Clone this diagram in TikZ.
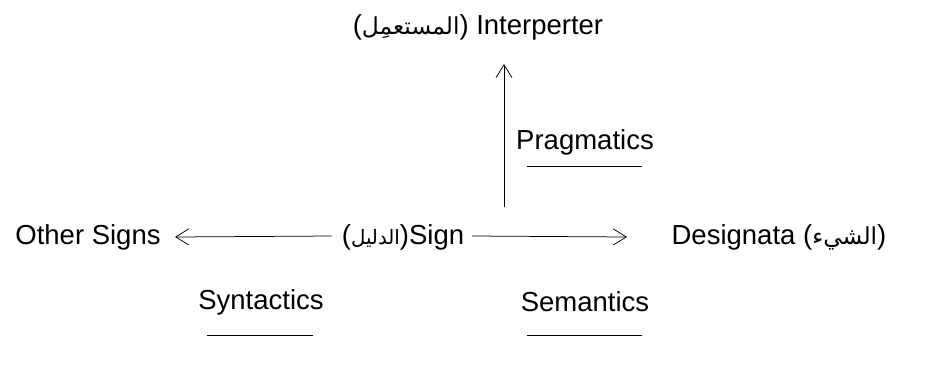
\documentclass[tikz,border=0pt]{standalone}
\usepackage{fontspec}
\setmainfont{Liberation Sans}
\newfontfamily\arabicfont[Script=Arabic,Scale=0.85]{DejaVu Sans}
\newfontfamily\arabicsmall[Script=Arabic,Scale=0.72]{DejaVu Sans}
\TeXXeTstate=1
\usetikzlibrary{arrows.meta}
\begin{document}
\begin{tikzpicture}[x=1pt,y=-1pt,
  lbl/.style={inner sep=0pt, font=\fontsize{27.5}{30}\selectfont},
  arr/.style={line width=0.75pt, -{Straight Barb[length=13pt,width=16pt,line width=0.75pt]}},
  uline/.style={line width=0.9pt}]
\useasboundingbox (0,0) rectangle (931,370);
\fill[white] (0,0) rectangle (931,370);
\node[lbl] (interp) at (478,27) {({\arabicfont\beginR المستعمِل\endR}) Interperter};
\node[lbl] (sign) at (403,237) {({\arabicsmall\beginR الدليل\endR})Sign};
\node[lbl] (other) at (88,237) {Other Signs};
\node[lbl] (desig) at (779,237) {Designata ({\arabicfont\beginR الشيء\endR})};
\node[lbl] (prag) at (585,142) {Pragmatics};
\node[lbl] (synt) at (261,302) {Syntactics};
\node[lbl] (sem) at (585,302) {Semantics};
\coordinate (vbase) at (504,207);
\coordinate (vtop) at (504,64);
\draw[arr] (vbase) -- (vtop);
\draw[arr] (332,236) coordinate (lstart) -- (other.east -| 175,0);
\draw[arr] (472,236) coordinate (rstart) -- (desig.west -| 627,0);
\draw[uline] (527,166) -- (642,166);
\draw[uline] (207,335) -- (313,335);
\draw[uline] (527,335) -- (642,335);
\end{tikzpicture}
\end{document}
